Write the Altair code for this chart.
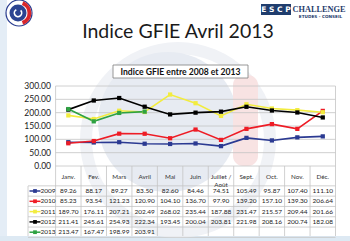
import altair as alt
import pandas as pd

# ---------------- data ----------------
months = ["Janv.", "Fev.", "Mars", "Avril", "Mai", "Juin", "Juillet /\nAoût",
          "Sept.", "Oct.", "Nov.", "Déc."]
years = ["2009", "2010", "2011", "2012", "2013"]
v2009 = [89.26, 88.17, 89.27, 83.50, 82.60, 84.46, 74.51, 105.49, 95.87, 107.40, 111.10]
v2010 = [85.23, 93.54, 121.23, 120.90, 104.10, 136.70, 97.90, 139.20, 157.10, 139.30, 206.64]
v2011 = [189.70, 176.11, 207.21, 202.49, 268.02, 235.44, 187.88, 231.47, 215.57, 209.44, 201.66]
v2012 = [211.41, 245.61, 254.93, 222.34, 193.45, 200.04, 203.81, 221.98, 208.16, 200.74, 182.08]
v2013 = [213.47, 167.47, 198.99, 203.91]
y_ticks = [0, 50, 100, 150, 200, 250, 300]
colors = ["#2b3a92", "#ee1c25", "#f2ec3f", "#000000", "#2fa243"]

series = [v2009, v2010, v2011, v2012, v2013]
rows = []
for r, (yr, vals) in enumerate(zip(years, series)):
    for i, v in enumerate(vals):
        rows.append({"year": yr, "row": r, "x": i + 0.5, "value": v, "label": f"{v:.2f}"})
df = pd.DataFrame(rows)
df_months = pd.DataFrame({"x": [i + 0.5 for i in range(len(months))], "m": months})
df_ticks = pd.DataFrame({"v": y_ticks, "lab": [f"{t:.2f}" for t in y_ticks]})
df_leg = pd.DataFrame({"year": years, "row": list(range(len(years)))})
df_inner_cols = pd.DataFrame({"j": list(range(1, len(months)))})
df_outer_cols = pd.DataFrame({"j": [0, len(months)]})
df_row_lines = pd.DataFrame({"r": [r - 0.5 for r in range(len(years) + 1)]})

FONT = "Lato"
X_SCALE = alt.Scale(domain=[0, 11], range=[55.6, 335.5], nice=False, zero=False)
Y_SCALE = alt.Scale(domain=[0, 300], range=[166, 86], nice=False)
ROW_SCALE = alt.Scale(domain=[0, 4], range=[191, 232.2], nice=False, zero=False)
COLOR = alt.Color("year:N", scale=alt.Scale(domain=years, range=colors), legend=None)
GRID = "#c4c4c4"

one = pd.DataFrame({"a": [0]})

def deco_rect(x, x2, y, y2, **kw):
    return alt.Chart(one).mark_rect(**kw).encode(
        x=alt.value(x), x2=alt.value(x2), y=alt.value(y), y2=alt.value(y2))

def deco_text(x, y, text, **kw):
    return alt.Chart(one).mark_text(text=text, **kw).encode(x=alt.value(x), y=alt.value(y))

# ---------------- background ----------------
bg_left = deco_rect(0, 7, 0, 241, color="#e4edf6")
bg_bottom = deco_rect(0, 350, 236, 241, color="#dde9f3")

# watermark
wm_ring = alt.Chart(one).mark_arc(radius=98, radius2=86, theta=0, theta2=6.2832,
                                  color="#f0f2f6").encode(x=alt.value(178), y=alt.value(140))
wm_disk = alt.Chart(one).mark_arc(radius=70, theta=0, theta2=6.2832,
                                  color="#e7ebf2").encode(x=alt.value(168), y=alt.value(122))
wm_red = deco_rect(233, 258, 75, 166, color="#f8e3e3", cornerRadius=10)

# ---------------- plot grid ----------------
grid = alt.Chart(df_ticks).mark_rule(color=GRID, strokeWidth=0.8).encode(
    x=alt.value(55.6), x2=alt.value(335.5),
    y=alt.Y("v:Q", scale=Y_SCALE, axis=None))
ylabels = alt.Chart(df_ticks).mark_text(align="right", baseline="middle", fontSize=8.5,
                                        font=FONT, color="#222222").encode(
    x=alt.value(51), y=alt.Y("v:Q", scale=Y_SCALE, axis=None), text="lab:N")

inner_cols = alt.Chart(df_inner_cols).mark_rule(color=GRID, strokeWidth=0.8).encode(
    x=alt.X("j:Q", scale=X_SCALE, axis=None), y=alt.value(166), y2=alt.value(236))
outer_cols = alt.Chart(df_outer_cols).mark_rule(color=GRID, strokeWidth=0.8).encode(
    x=alt.X("j:Q", scale=X_SCALE, axis=None), y=alt.value(86), y2=alt.value(236))
row_lines = alt.Chart(df_row_lines).mark_rule(color=GRID, strokeWidth=0.8).encode(
    x=alt.value(28), x2=alt.value(335.5), y=alt.Y("r:Q", scale=ROW_SCALE, axis=None))
leg_col = alt.Chart(one).mark_rule(color=GRID, strokeWidth=0.8).encode(
    x=alt.value(28), y=alt.value(186), y2=alt.value(236))

# ---------------- series ----------------
lines = alt.Chart(df).mark_line(strokeWidth=1.6).encode(
    x=alt.X("x:Q", scale=X_SCALE, axis=None),
    y=alt.Y("value:Q", scale=Y_SCALE, axis=None),
    color=COLOR, detail="year:N")
points = alt.Chart(df).mark_square(size=18, opacity=1).encode(
    x=alt.X("x:Q", scale=X_SCALE, axis=None),
    y=alt.Y("value:Q", scale=Y_SCALE, axis=None),
    color=COLOR)

# ---------------- table ----------------
cat_labels = alt.Chart(df_months).mark_text(fontSize=6.3, font=FONT, color="#333333",
                                            lineBreak="\n", baseline="middle").encode(
    x=alt.X("x:Q", scale=X_SCALE, axis=None), y=alt.value(176.5), text="m:N")
cells = alt.Chart(df).mark_text(fontSize=6.5, font=FONT, color="#222222",
                                baseline="middle").encode(
    x=alt.X("x:Q", scale=X_SCALE, axis=None),
    y=alt.Y("row:Q", scale=ROW_SCALE, axis=None), text="label:N")
leg_lines = alt.Chart(df_leg).mark_rule(strokeWidth=1.5).encode(
    x=alt.value(29.5), x2=alt.value(40.5),
    y=alt.Y("row:Q", scale=ROW_SCALE, axis=None), color=COLOR)
leg_pts = alt.Chart(df_leg).mark_square(size=14, opacity=1).encode(
    x=alt.value(35), y=alt.Y("row:Q", scale=ROW_SCALE, axis=None), color=COLOR)
leg_text = alt.Chart(df_leg).mark_text(fontSize=6.5, font=FONT, color="#222222",
                                       align="left", baseline="middle").encode(
    x=alt.value(40.5), y=alt.Y("row:Q", scale=ROW_SCALE, axis=None), text="year:N")

# ---------------- titles ----------------
tbox = deco_rect(113, 248, 65, 78, fill="white", stroke="#7f7f7f", strokeWidth=0.8)
ttext = deco_text(180.5, 71.8, "Indice GFIE entre 2008 et 2013", fontSize=8.6,
                  fontWeight="bold", font=FONT, color="#111111", baseline="middle")
main_title = deco_text(178, 38, "Indice GFIE Avril 2013", fontSize=19.5, font=FONT,
                       color="#1a1a1a", baseline="alphabetic")

# ---------------- logos ----------------
NAVY = "#1f3d6d"
escp_box = deco_rect(261, 291, 4, 15, color=NAVY)
escp_txt = deco_text(276, 9.8, "E S C P", fontSize=7.5, fontWeight="bold", font="DejaVu Sans",
                     color="white", baseline="middle")
chal_txt = deco_text(292.5, 10, "CHALLENGE", fontSize=8.3, fontWeight="bold",
                     font="Liberation Serif", color=NAVY, align="left", baseline="middle")
etud_txt = deco_text(320.5, 17, "ETUDES - CONSEIL", fontSize=4.2, fontWeight="bold",
                     font="DejaVu Sans", color=NAVY, baseline="middle")

logo_outer = alt.Chart(one).mark_arc(radius=13, theta=0, theta2=6.2832, fill="white",
                                     stroke="#2a3d8f", strokeWidth=1.2).encode(
    x=alt.value(19), y=alt.value(13))
logo_red = alt.Chart(one).mark_arc(radius=12.4, radius2=8.5, theta=0.35, theta2=2.8,
                                   color="#d9262b").encode(x=alt.value(19), y=alt.value(13))
logo_blue = alt.Chart(one).mark_arc(radius=8.5, theta=0, theta2=6.2832,
                                    color="#2b4391").encode(x=alt.value(18), y=alt.value(13))
logo_in = alt.Chart(one).mark_arc(radius=4.5, radius2=2.8, theta=0.8, theta2=5.8,
                                  color="white").encode(x=alt.value(18), y=alt.value(13))

chart = alt.layer(
    bg_left, bg_bottom, wm_ring, wm_disk, wm_red,
    grid, ylabels, inner_cols, outer_cols, row_lines, leg_col,
    lines, points, cat_labels, cells, leg_lines, leg_pts, leg_text,
    tbox, ttext, main_title,
    escp_box, escp_txt, chal_txt, etud_txt,
    logo_outer, logo_red, logo_blue, logo_in,
).resolve_scale(x="independent", y="independent").properties(
    width=350, height=241, padding=0,
    autosize=alt.AutoSizeParams(type="none"),
).configure_view(strokeWidth=0)

chart.save("out.html", embed_options={"renderer": "svg", "actions": False})
